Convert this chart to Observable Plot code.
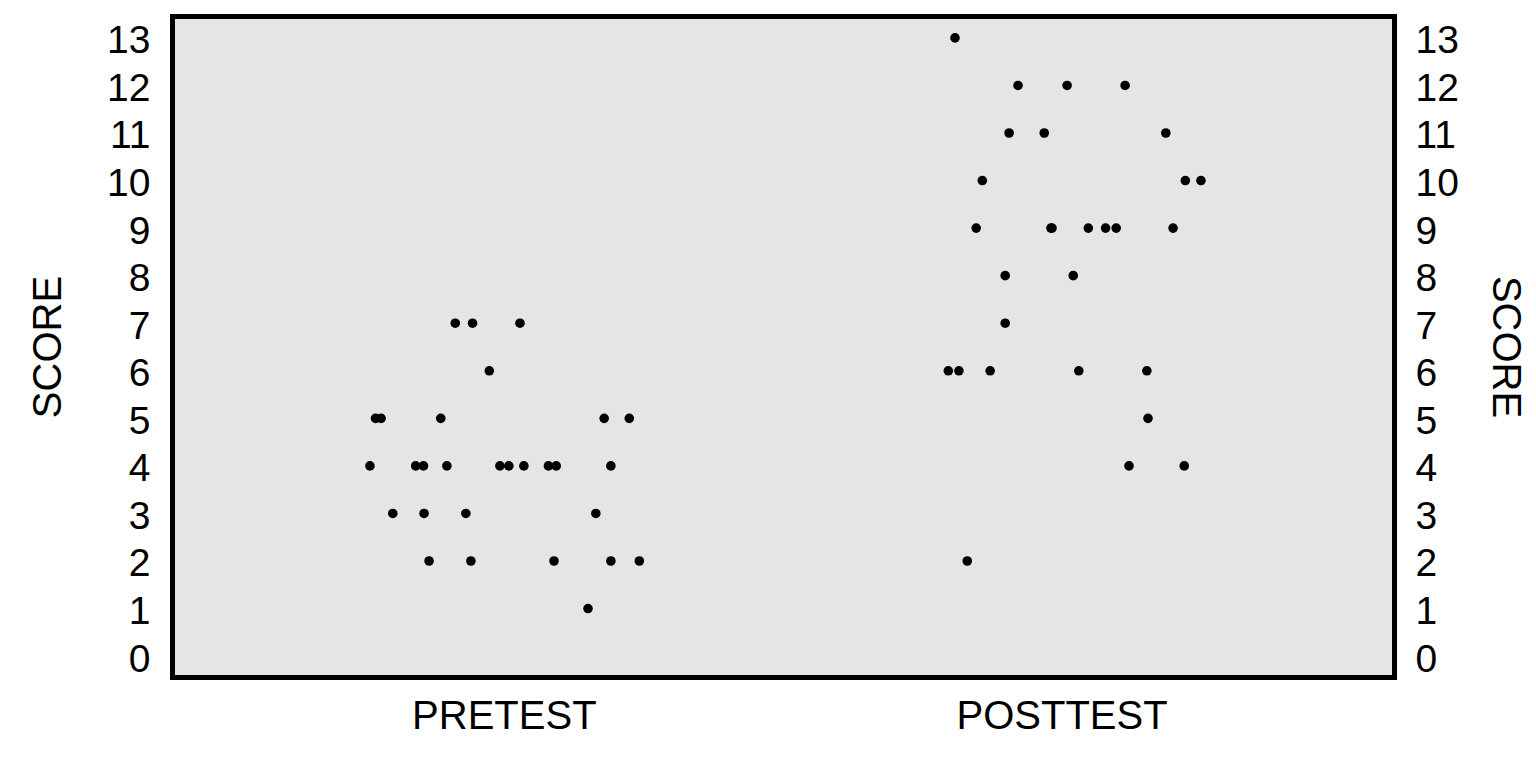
<!DOCTYPE html>
<html><head><meta charset="utf-8">
<script src="https://cdn.jsdelivr.net/npm/d3@7"></script>
<script src="https://cdn.jsdelivr.net/npm/@observablehq/plot@0.6"></script>
<style>body{margin:0;background:#fff} svg{display:block}</style>
</head><body><div id="chart"></div>
<script>
const groups = ["PRETEST", "POSTTEST"];
const scoreTicks = [0,1,2,3,4,5,6,7,8,9,10,11,12,13];
const axisTitle = "SCORE";

const pretestScores = [7,7,7, 6, 5,5,5,5,5, 4,4,4,4,4,4,4,4,4,4, 3,3,3,3, 2,2,2,2,2, 1];
const pretestJitter = [-0.088,-0.057,0.028, -0.027, -0.231,-0.221,-0.114,0.179,0.224,
  -0.241,-0.159,-0.145,-0.103,-0.008,0.008,0.035,0.079,0.093,0.191,
  -0.200,-0.144,-0.069,0.164, -0.135,-0.060,0.089,0.191,0.242, 0.150];

const posttestScores = [13, 12,12,12, 11,11,11, 10,10,10, 9,9,9,9,9,9,9, 8,8, 7, 6,6,6,6,6, 5, 4,4, 2];
const posttestJitter = [-0.192, -0.079,0.009,0.113, -0.095,-0.032,0.186, -0.143,0.221,0.249,
  -0.154,-0.020,-0.018,0.047,0.078,0.097,0.199, -0.102,0.020, -0.102,
  -0.204,-0.185,-0.129,0.030,0.152, 0.154, 0.120,0.219, -0.170];

const data = [
  ...pretestScores.map((s, i) => ({group: 1, score: s, jitter: pretestJitter[i]})),
  ...posttestScores.map((s, i) => ({group: 2, score: s, jitter: posttestJitter[i]}))
];

const chart = Plot.plot({
  width: 1536,
  height: 768,
  marginLeft: 172,
  marginRight: 142,
  marginTop: 16,
  marginBottom: 91,
  style: {fontFamily: "'Liberation Sans', Arial, sans-serif", fontSize: "39px", background: "#ffffff"},
  x: {domain: [0.405, 2.596]},
  y: {domain: [-0.45, 13.45]},
  marks: [
    Plot.frame({fill: "#e5e5e5"}),
    Plot.dot(data, {x: d => d.group + d.jitter, y: "score", r: 4.8, fill: "black", stroke: "none"}),
    Plot.frame({stroke: "black", strokeWidth: 5}),
    Plot.axisY({anchor: "left", ticks: scoreTicks, tickSize: 0, tickPadding: 22, fontSize: 39, dy: 3, label: null}),
    Plot.axisY({anchor: "right", ticks: scoreTicks, tickSize: 0, tickPadding: 21, fontSize: 39, dy: 3, label: null}),
    Plot.axisX({ticks: [1, 2], tickFormat: d => groups[d - 1], tickSize: 0, tickPadding: 23, fontSize: 40, label: null}),
    Plot.text([axisTitle], {text: d => d, frameAnchor: "left", dx: -124, rotate: -90, fontSize: 40, textAnchor: "middle", lineAnchor: "middle"}),
    Plot.text([axisTitle], {text: d => d, frameAnchor: "right", dx: 111, rotate: 90, fontSize: 40, textAnchor: "middle", lineAnchor: "middle"})
  ]
});
document.getElementById("chart").appendChild(chart);
</script>
</body></html>
